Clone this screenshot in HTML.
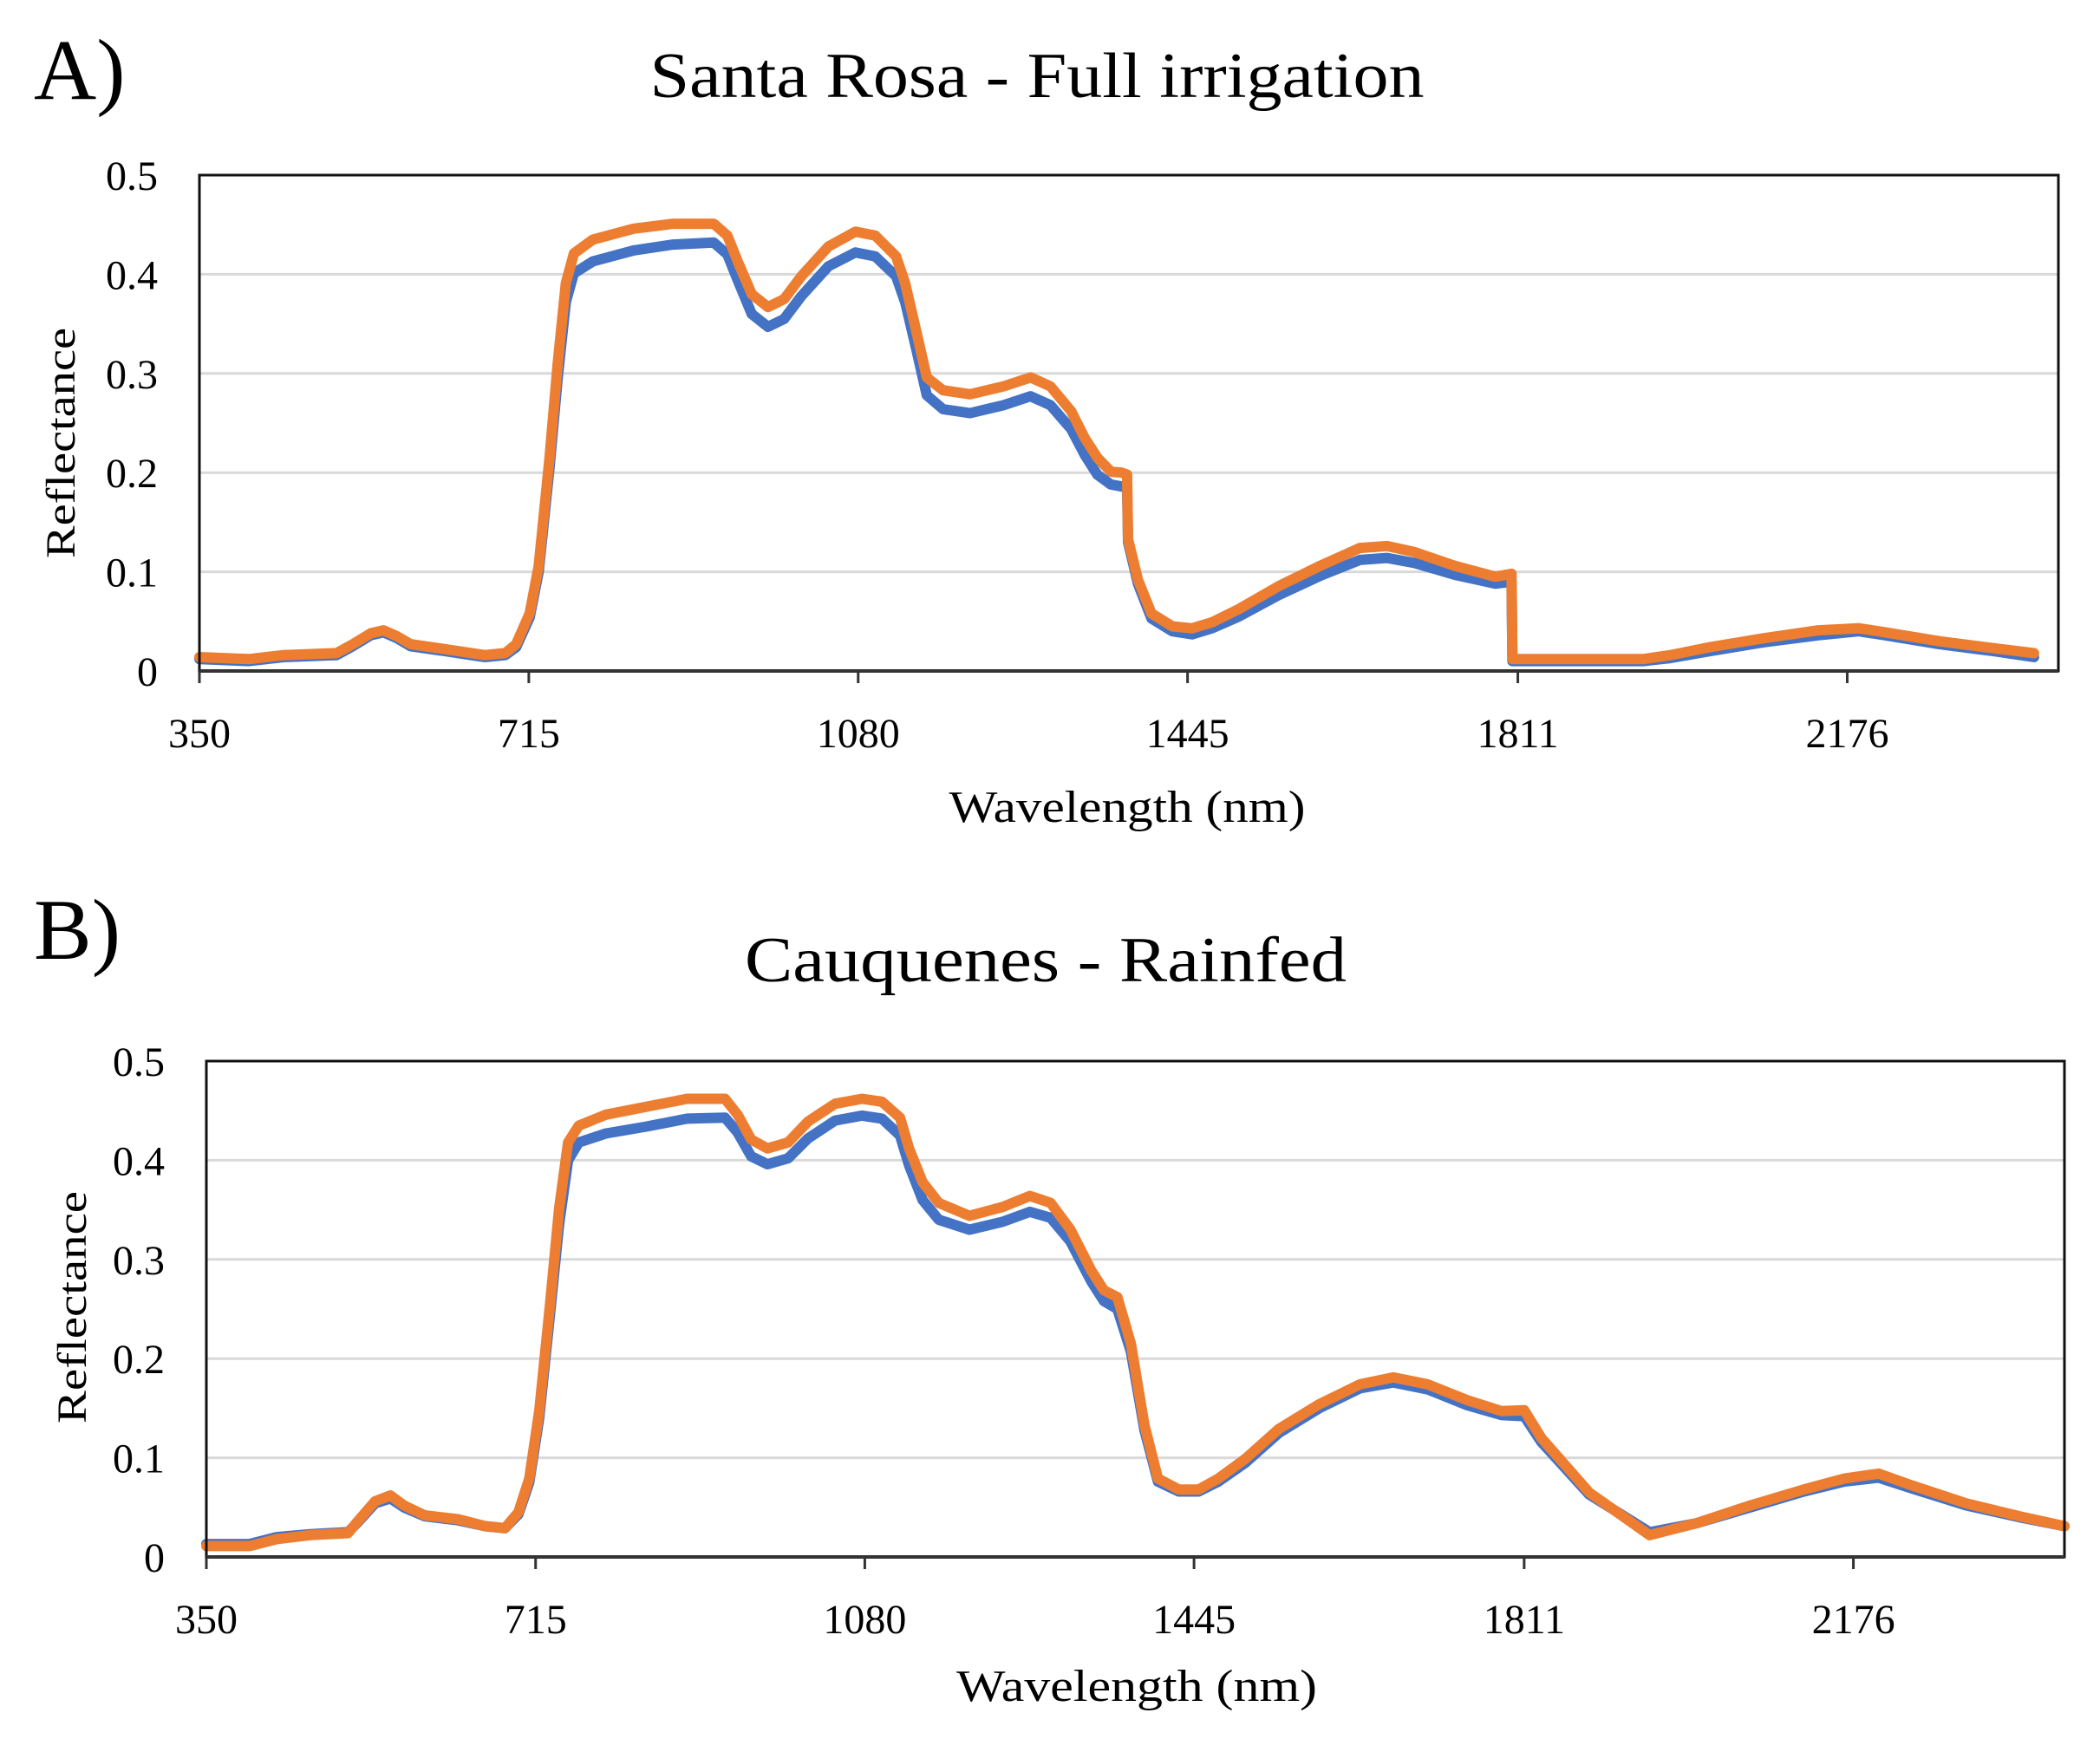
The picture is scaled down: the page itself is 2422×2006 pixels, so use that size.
<!DOCTYPE html>
<html><head><meta charset="utf-8"><style>
html,body{margin:0;padding:0;background:#fff}
svg{display:block}
text{font-family:"Liberation Serif",serif;fill:#000}
</style></head><body>
<svg id="chart" width="2422" height="2006" viewBox="0 0 2422 2006" xmlns="http://www.w3.org/2000/svg">
<rect width="2422" height="2006" fill="#fff"/>
<g id="panelA">
 <text x="39" y="114" font-size="100">A)</text>
 <text x="1196" y="112" font-size="74" text-anchor="middle" textLength="893" lengthAdjust="spacingAndGlyphs">Santa Rosa - Full irrigation</text>
 <text x="1300" y="948" font-size="52" text-anchor="middle" textLength="411" lengthAdjust="spacingAndGlyphs">Wavelength (nm)</text>
 <text transform="translate(86,511) rotate(-90)" font-size="48" text-anchor="middle" textLength="266" lengthAdjust="spacingAndGlyphs">Reflectance</text>
</g>
<g id="panelB">
 <text x="39" y="1106" font-size="100">B)</text>
 <text x="1206" y="1132" font-size="74" text-anchor="middle" textLength="694" lengthAdjust="spacingAndGlyphs">Cauquenes - Rainfed</text>
 <text x="1311" y="1962" font-size="52" text-anchor="middle" textLength="416" lengthAdjust="spacingAndGlyphs">Wavelength (nm)</text>
 <text transform="translate(99,1508) rotate(-90)" font-size="48" text-anchor="middle" textLength="268" lengthAdjust="spacingAndGlyphs">Reflectance</text>
</g>
</svg>
<script>
const xTicks = [350, 715, 1080, 1445, 1811, 2176];
const yTicks = [0, 0.1, 0.2, 0.3, 0.4, 0.5];
const yTickLabels = ["0", "0.1", "0.2", "0.3", "0.4", "0.5"];

const wlA = [350,405,443,502,520,540,554,569,584,622,666,689,701,716,726,738,747,756,765,786,831,875,920,935,947,962,980,998,1017,1047,1077,1099,1122,1132,1144,1156,1174,1204,1241,1271,1293,1316,1331,1345,1360,1372,1378,1379,1390,1405,1428,1450,1472,1502,1547,1592,1636,1666,1696,1741,1786,1804,1805,1845,1950,1980,2024,2084,2144,2189,2218,2278,2338,2383];
const orangeA = [0.014,0.012,0.016,0.018,0.027,0.038,0.041,0.035,0.027,0.022,0.016,0.018,0.027,0.058,0.106,0.215,0.31,0.391,0.421,0.435,0.446,0.451,0.451,0.439,0.412,0.380,0.367,0.375,0.398,0.428,0.443,0.439,0.418,0.391,0.344,0.296,0.283,0.279,0.287,0.296,0.287,0.262,0.235,0.215,0.201,0.200,0.198,0.133,0.092,0.058,0.045,0.043,0.049,0.0625,0.086,0.106,0.124,0.126,0.12,0.106,0.095,0.098,0.012,0.012,0.012,0.016,0.024,0.033,0.041,0.043,0.039,0.030,0.023,0.018];
const blueA = [0.012,0.010,0.014,0.016,0.025,0.036,0.039,0.033,0.025,0.020,0.014,0.016,0.024,0.054,0.100,0.205,0.295,0.372,0.401,0.413,0.424,0.430,0.432,0.420,0.393,0.360,0.347,0.355,0.378,0.408,0.422,0.418,0.398,0.372,0.326,0.278,0.264,0.260,0.268,0.277,0.268,0.244,0.218,0.198,0.188,0.186,0.185,0.130,0.088,0.053,0.040,0.037,0.043,0.055,0.077,0.096,0.112,0.114,0.109,0.097,0.088,0.090,0.010,0.010,0.010,0.013,0.020,0.029,0.036,0.040,0.036,0.027,0.020,0.014];

const wlB = [350,398,428,465,507,517,537,554,569,592,629,659,681,696,708,719,731,741,751,763,793,838,883,925,939,954,972,995,1017,1047,1077,1099,1119,1129,1144,1162,1196,1233,1263,1286,1308,1331,1345,1360,1375,1390,1405,1428,1450,1472,1502,1539,1584,1629,1666,1704,1748,1786,1811,1830,1883,1950,2002,2062,2121,2166,2204,2241,2301,2360,2410];
const orangeB = [0.011,0.011,0.018,0.022,0.024,0.035,0.056,0.062,0.052,0.042,0.038,0.031,0.029,0.045,0.079,0.147,0.255,0.351,0.418,0.435,0.446,0.454,0.462,0.462,0.446,0.421,0.412,0.418,0.439,0.457,0.462,0.459,0.443,0.412,0.378,0.357,0.344,0.353,0.364,0.357,0.330,0.289,0.269,0.262,0.215,0.133,0.079,0.068,0.068,0.079,0.099,0.129,0.154,0.174,0.181,0.174,0.158,0.147,0.148,0.120,0.065,0.022,0.034,0.052,0.068,0.079,0.084,0.072,0.054,0.041,0.031];
const blueB = [0.013,0.013,0.02,0.023,0.025,0.034,0.054,0.059,0.05,0.041,0.037,0.031,0.029,0.043,0.075,0.14,0.245,0.335,0.4,0.418,0.427,0.434,0.442,0.443,0.428,0.404,0.396,0.402,0.422,0.44,0.445,0.442,0.425,0.395,0.36,0.34,0.33,0.338,0.348,0.342,0.318,0.278,0.258,0.25,0.207,0.128,0.076,0.066,0.066,0.076,0.095,0.125,0.15,0.17,0.176,0.169,0.153,0.143,0.142,0.116,0.063,0.025,0.034,0.05,0.066,0.076,0.08,0.069,0.052,0.04,0.031];

const NS = "http://www.w3.org/2000/svg";
function mk(tag, attrs, parent){const e=document.createElementNS(NS,tag);for(const k in attrs)e.setAttribute(k,attrs[k]);parent.appendChild(e);return e;}

function drawPanel(g, box, wl, blue, orange, prefix){
  const xMin=350, xMax=2410;
  const sx = v => box.l + (v - xMin) / (xMax - xMin) * (box.r - box.l);
  const sy = v => box.b - v / 0.5 * (box.b - box.t);
  yTicks.forEach((t,i)=>{
    if(t>0 && t<0.5){
      const gl = mk('line',{x1:box.l,x2:box.r,y1:sy(t),y2:sy(t),stroke:'#d9d9d9','stroke-width':3},g);
      
      
    }
    const tl = mk('text',{x:box.l-48,y:sy(t)+17,'font-size':48,'text-anchor':'end'},g);
    tl.textContent = yTickLabels[i];
    
    
  });
  xTicks.forEach(t=>{
    const tk = mk('line',{x1:sx(t),x2:sx(t),y1:box.b,y2:box.b+14,stroke:'#333','stroke-width':3},g);
    
    
    const tl = mk('text',{x:sx(t),y:box.b+88,'font-size':48,'text-anchor':'middle'},g);
    tl.textContent = String(t);
    
    
  });
  const series = [[blue,'#4472C4','blue'],[orange,'#ED7D31','orange']];
  series.forEach(([vals,col,nm])=>{
    const pts = wl.map((w,i)=>sx(w).toFixed(1)+','+sy(vals[i]).toFixed(1)).join(' ');
    const pl = mk('polyline',{points:pts,fill:'none',stroke:col,'stroke-width':12,'stroke-linejoin':'round','stroke-linecap':'round'},g);
    
    
  });
  const fr = mk('rect',{x:box.l,y:box.t,width:box.r-box.l,height:box.b-box.t,fill:'none',stroke:'#111','stroke-width':3},g);
  
  
  const ax = mk('line',{x1:box.l,x2:box.r,y1:box.b,y2:box.b,stroke:'#333','stroke-width':4},g);
  
  
}
drawPanel(document.getElementById('panelA'), {l:230,r:2374,t:202,b:774}, wlA, blueA, orangeA, 'panel-a');
drawPanel(document.getElementById('panelB'), {l:238,r:2381,t:1224,b:1796}, wlB, blueB, orangeB, 'panel-b');
</script>
</body></html>
